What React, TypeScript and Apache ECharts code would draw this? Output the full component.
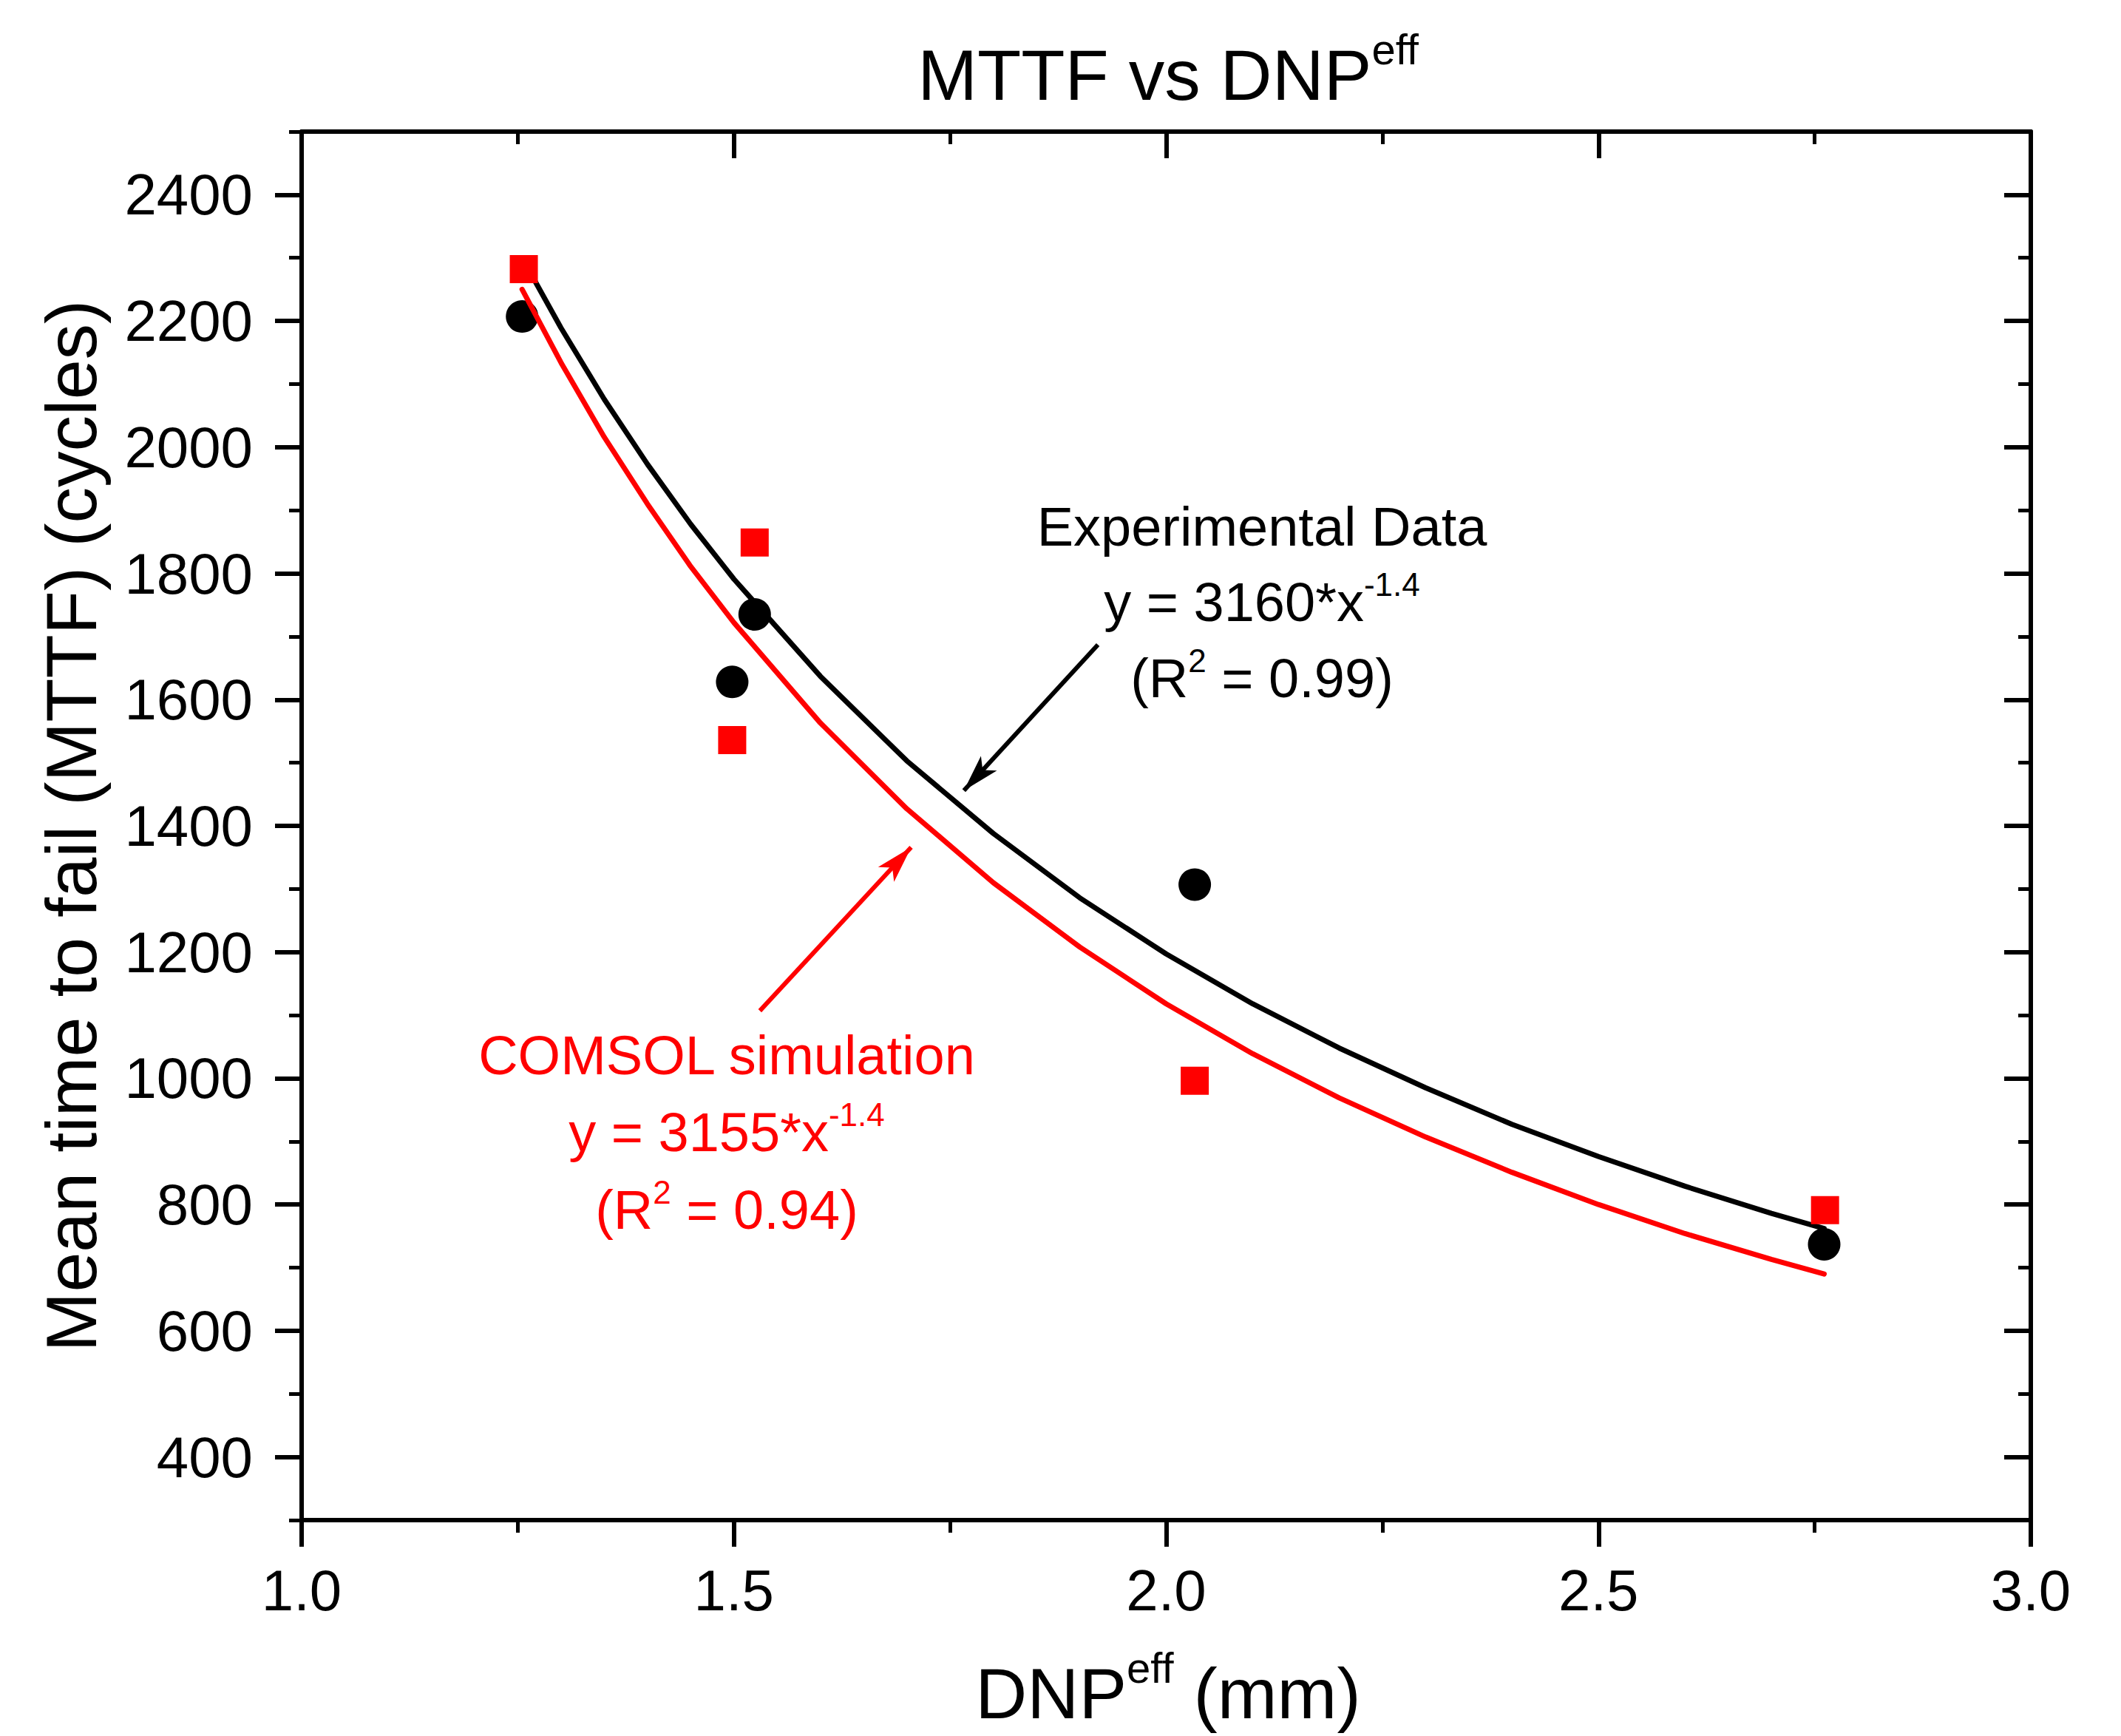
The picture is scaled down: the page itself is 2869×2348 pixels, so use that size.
import React, { useEffect, useRef } from 'react';
import * as echarts from 'echarts';

// ---- data ----
const X_MIN = 1.0;
const X_MAX = 3.0;
const X_STEP = 0.5;
const Y_MIN = 300;
const Y_MAX = 2500;
const Y_MINOR_STEP = 100;
const Y_MAJOR = [400, 600, 800, 1000, 1200, 1400, 1600, 1800, 2000, 2200, 2400];

// Experimental data (black circles)
const EXP_X = [1.255, 1.498, 1.524, 2.033, 2.761];
const EXP_Y = [2207, 1628, 1735, 1307, 737];
// COMSOL simulation (red squares)
const SIM_X = [1.257, 1.498, 1.524, 2.033, 2.762];
const SIM_Y = [2282, 1536, 1849, 996, 791];

// Fitted curves, values
const FIT_X = [1.255, 1.3, 1.35, 1.4, 1.45, 1.5, 1.6, 1.7, 1.8, 1.9, 2.0, 2.1, 2.2, 2.3, 2.4, 2.5, 2.6, 2.7, 2.761];
const EXP_FIT_Y = [2300, 2189, 2076, 1973, 1878, 1791, 1637, 1503, 1388, 1286, 1197, 1118, 1048, 985, 927, 876, 829, 786, 762];
const SIM_FIT_Y = [2250, 2134, 2016, 1910, 1811, 1722, 1563, 1427, 1310, 1208, 1118, 1039, 969, 907, 851, 800, 754, 713, 690];

// Annotation arrows (start -> end, data coordinates)
const EXP_ARROW = [[1.921, 1687], [1.766, 1456]];
const SIM_ARROW = [[1.530, 1107], [1.705, 1366]];

const TITLE = 'MTTF vs DNP{sup|eff}';
const X_NAME = 'DNP{sup|eff} (mm)';
const Y_NAME = 'Mean time to fail (MTTF) (cycles)';
const EXP_LINES = ['Experimental Data', 'y = 3160*x{sup|-1.4}', '(R{sup|2} = 0.99)'];
const SIM_LINES = ['COMSOL simulation', 'y = 3155*x{sup|-1.4}', '(R{sup|2} = 0.94)'];

const FONT = '"Liberation Sans", Arial, Helvetica, sans-serif';
const RED = '#FF0000';
const BLACK = '#000000';

function zip(xs: number[], ys: number[]) {
  return xs.map((x, i) => [x, ys[i]]);
}

function bigText(text: string, x: number, y: number, rotation = 0) {
  return {
    type: 'text',
    x,
    y,
    rotation,
    silent: true,
    style: {
      text,
      fontSize: 97,
      fontFamily: FONT,
      fill: BLACK,
      align: 'center',
      verticalAlign: 'middle',
      lineHeight: 128,
      rich: {
        sup: { fontSize: 58, fontFamily: FONT, fill: BLACK, verticalAlign: 'top' },
      },
    },
  };
}

function annText(text: string, x: number, y: number, color: string) {
  return {
    type: 'text',
    x,
    y,
    silent: true,
    style: {
      text,
      fontSize: 74,
      fontFamily: FONT,
      fill: color,
      align: 'center',
      verticalAlign: 'middle',
      lineHeight: 92,
      rich: {
        sup: { fontSize: 44, fontFamily: FONT, fill: color, verticalAlign: 'top' },
      },
    },
  };
}

export default function App() {
  const ref = useRef<HTMLDivElement>(null);

  useEffect(() => {
    if (!ref.current) return;
    const chart = echarts.init(ref.current, null, { renderer: 'svg' });

    const axisLine = { show: true, onZero: false, lineStyle: { color: BLACK, width: 6 } };
    const tickStyle = { color: BLACK, width: 6 };
    const minorStyle = { color: BLACK, width: 5 };

    const xCommon = {
      type: 'value',
      min: X_MIN,
      max: X_MAX,
      interval: X_STEP,
      splitLine: { show: false },
      minorSplitLine: { show: false },
      axisLine,
    };

    const yCommon = {
      type: 'value',
      min: Y_MIN,
      max: Y_MAX,
      splitLine: { show: false },
      minorSplitLine: { show: false },
    };

    const option: any = {
      animation: false,
      backgroundColor: '#ffffff',
      grid: { left: 408, right: 122, top: 178, bottom: 292, containLabel: false, outerBoundsMode: 'none' },
      xAxis: [
        {
          ...xCommon,
          position: 'bottom',
          axisTick: { show: true, length: 36, lineStyle: tickStyle },
          minorTick: { show: true, splitNumber: 2, length: 17, lineStyle: minorStyle },
          axisLabel: {
            show: true,
            fontSize: 78,
            fontFamily: FONT,
            color: BLACK,
            margin: 56,
            formatter: (v: number) => v.toFixed(1),
          },
        },
        {
          ...xCommon,
          position: 'top',
          axisTick: { show: true, inside: true, length: 36, lineStyle: tickStyle },
          minorTick: { show: true, splitNumber: 2, length: 17, lineStyle: minorStyle },
          axisLabel: { show: false },
        },
      ],
      yAxis: [
        {
          ...yCommon,
          position: 'left',
          axisLine,
          axisTick: { show: true, customValues: Y_MAJOR, length: 36, lineStyle: tickStyle },
          axisLabel: {
            show: true,
            customValues: Y_MAJOR,
            fontSize: 78,
            fontFamily: FONT,
            color: BLACK,
            margin: 66,
            formatter: (v: number) => String(v),
          },
        },
        {
          ...yCommon,
          position: 'left',
          interval: Y_MINOR_STEP,
          axisLine: { show: false },
          axisTick: { show: true, length: 17, lineStyle: minorStyle },
          axisLabel: { show: false },
        },
        {
          ...yCommon,
          position: 'right',
          axisLine,
          axisTick: { show: true, inside: true, customValues: Y_MAJOR, length: 36, lineStyle: tickStyle },
          axisLabel: { show: false },
        },
        {
          ...yCommon,
          position: 'right',
          interval: Y_MINOR_STEP,
          axisLine: { show: false },
          axisTick: { show: true, inside: true, length: 17, lineStyle: minorStyle },
          axisLabel: { show: false },
        },
      ],
      series: [
        {
          name: 'Experimental fit',
          type: 'line',
          xAxisIndex: 0,
          yAxisIndex: 0,
          data: zip(FIT_X, EXP_FIT_Y),
          smooth: false,
          showSymbol: false,
          symbol: 'none',
          silent: true,
          lineStyle: { color: BLACK, width: 7, cap: 'round', join: 'round' },
          z: 2,
        },
        {
          name: 'Experimental Data',
          type: 'scatter',
          xAxisIndex: 0,
          yAxisIndex: 0,
          data: zip(EXP_X, EXP_Y),
          symbol: 'circle',
          symbolSize: 44,
          itemStyle: { color: BLACK, opacity: 1 },
          silent: true,
          z: 3,
          markLine: {
            silent: true,
            symbol: ['none', 'arrow'],
            symbolSize: [22, 50],
            label: { show: false },
            lineStyle: { color: BLACK, width: 6, type: 'solid', opacity: 1 },
            data: [[{ coord: EXP_ARROW[0] }, { coord: EXP_ARROW[1] }]],
          },
        },
        {
          name: 'COMSOL fit',
          type: 'line',
          xAxisIndex: 0,
          yAxisIndex: 0,
          data: zip(FIT_X, SIM_FIT_Y),
          smooth: false,
          showSymbol: false,
          symbol: 'none',
          silent: true,
          lineStyle: { color: RED, width: 7, cap: 'round', join: 'round' },
          z: 4,
        },
        {
          name: 'COMSOL simulation',
          type: 'scatter',
          xAxisIndex: 0,
          yAxisIndex: 0,
          data: zip(SIM_X, SIM_Y),
          symbol: 'rect',
          symbolSize: 38,
          itemStyle: { color: RED, opacity: 1 },
          silent: true,
          z: 5,
          markLine: {
            silent: true,
            symbol: ['none', 'arrow'],
            symbolSize: [22, 50],
            label: { show: false },
            lineStyle: { color: RED, width: 6, type: 'solid', opacity: 1 },
            data: [[{ coord: SIM_ARROW[0] }, { coord: SIM_ARROW[1] }]],
          },
        },
      ],
      graphic: [
        bigText(TITLE, 1580, 101),
        bigText(Y_NAME, 96, 1117, Math.PI / 2),
        bigText(X_NAME, 1580, 2290),
        annText(EXP_LINES[0], 1707, 712, BLACK),
        annText(EXP_LINES[1], 1707, 814, BLACK),
        annText(EXP_LINES[2], 1707, 917, BLACK),
        annText(SIM_LINES[0], 983, 1427, RED),
        annText(SIM_LINES[1], 983, 1531, RED),
        annText(SIM_LINES[2], 983, 1636, RED),
      ],
    };

    chart.setOption(option);
    return () => {
      chart.dispose();
    };
  }, []);

  return (
    <div
      ref={ref}
      style={{ position: 'absolute', left: 0, top: 0, width: 2869, height: 2348, background: '#fff' }}
    />
  );
}
